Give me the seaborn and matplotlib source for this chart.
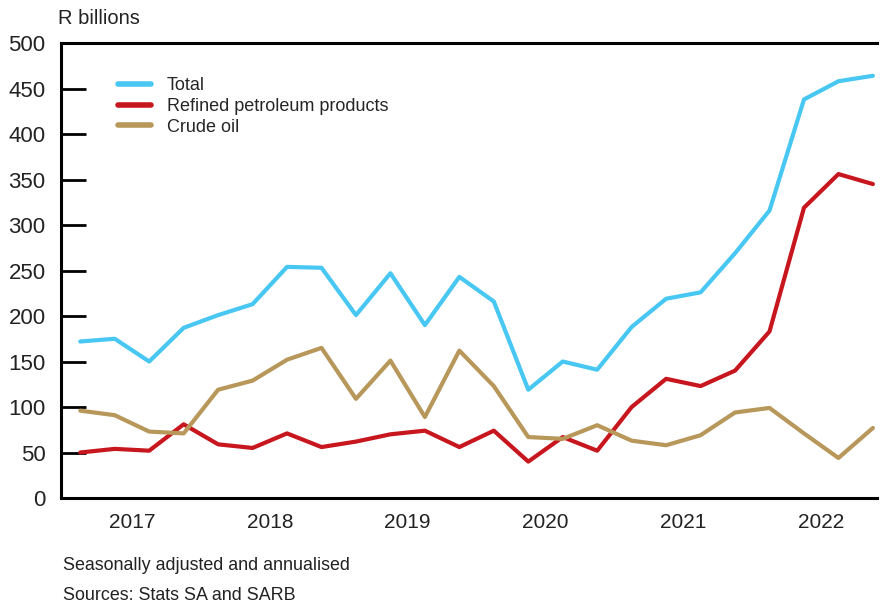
import numpy as np
import pandas as pd
import matplotlib.pyplot as plt
import seaborn as sns

# quarterly, 2017Q1 - 2022Q4
years = [2017, 2018, 2019, 2020, 2021, 2022]
quarters = [f"{y}Q{q}" for y in years for q in range(1, 5)]

total = [172, 175, 150, 187, 201, 213, 254, 253, 201, 247, 190, 243,
         216, 119, 150, 141, 188, 219, 226, 269, 316, 438, 458, 464]
refined = [50, 54, 52, 81, 59, 55, 71, 56, 62, 70, 74, 56,
           74, 40, 67, 52, 100, 131, 123, 140, 183, 319, 356, 345]
crude = [96, 91, 73, 71, 119, 129, 152, 165, 109, 151, 89, 162,
         123, 67, 65, 80, 63, 58, 69, 94, 99, 71, 44, 77]

series_names = ["Total", "Refined petroleum products", "Crude oil"]
colors = ["#47C7F2", "#C8161E", "#B8975A"]

df = pd.DataFrame({"quarter": quarters, "idx": np.arange(len(quarters)),
                   "Total": total, "Refined petroleum products": refined,
                   "Crude oil": crude})
long_df = df.melt(id_vars=["quarter", "idx"], value_vars=series_names,
                  var_name="series", value_name="value")

sns.set_style("white")
plt.rcParams["font.family"] = ["Liberation Sans", "DejaVu Sans"]

fig = plt.figure(figsize=(8.81, 6.06), dpi=100)
ax = fig.add_axes([0.0692, 0.1782, 0.9263, 0.7508])

sns.lineplot(data=long_df, x="idx", y="value", hue="series",
             hue_order=series_names, palette=colors, linewidth=3.0, ax=ax)

ax.set_xlim(-0.56, 23.12)
ax.set_ylim(0, 500)
ax.set_yticks(range(0, 501, 50))
ax.set_xlabel("")
ax.set_ylabel("")

# year labels at centre of each year, separators between years
ax.set_xticks([i * 4 + 1.5 for i in range(len(years))])
ax.set_xticklabels([str(y) for y in years])
ax.set_xticks([i * 4 + 3.5 for i in range(len(years) - 1)], minor=True)
ax.tick_params(axis="x", which="major", length=0, pad=11, labelsize=15, colors="#222222")
ax.tick_params(axis="x", which="minor", direction="in", length=16, width=2, color="black")
ax.tick_params(axis="y", direction="in", length=18, width=2, color="black",
               pad=11, labelsize=16, labelcolor="#222222", left=True)

for side in ["left", "top", "bottom"]:
    ax.spines[side].set_visible(True)
    ax.spines[side].set_color("black")
    ax.spines[side].set_linewidth(2.2)
ax.spines["right"].set_visible(False)

leg = ax.legend(loc="upper left", bbox_to_anchor=(0.05, 0.96), frameon=False,
                fontsize=13, handlelength=1.8, handletextpad=0.9, labelspacing=0.2)
for line in leg.get_lines():
    line.set_linewidth(4)

fig.text(0.066, 0.953, "R billions", fontsize=14.5, color="#222222", va="bottom")
fig.text(0.072, 0.067, "Seasonally adjusted and annualised", fontsize=12.9, color="#222222", va="center")
fig.text(0.072, 0.018, "Sources: Stats SA and SARB", fontsize=12.9, color="#222222", va="center")

fig.savefig("out.png", dpi=100)
